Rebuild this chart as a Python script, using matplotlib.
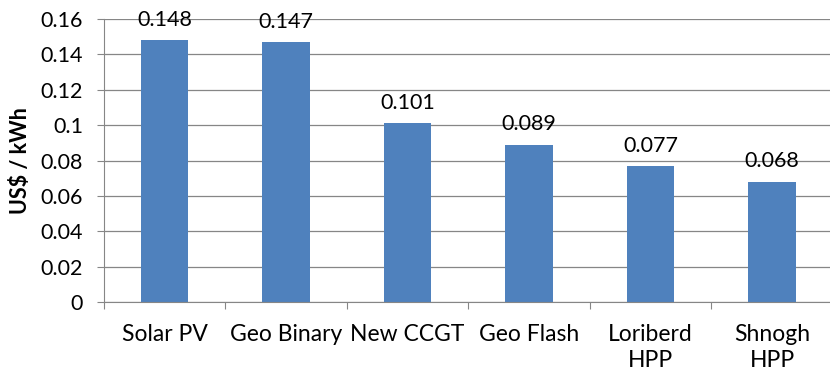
import matplotlib.pyplot as plt

categories = ["Solar PV", "Geo Binary", "New CCGT", "Geo Flash", "Loriberd\nHPP", "Shnogh\nHPP"]
costs = [0.148, 0.147, 0.101, 0.089, 0.077, 0.068]
yticks = [0, 0.02, 0.04, 0.06, 0.08, 0.1, 0.12, 0.14, 0.16]
ytick_labels = ["0", "0.02", "0.04", "0.06", "0.08", "0.1", "0.12", "0.14", "0.16"]

plt.rcParams['font.family'] = ['Lato', 'DejaVu Sans']
fs = 15.5
axis_grey = "#868686"

fig = plt.figure(figsize=(8.3, 3.79), dpi=100)
ax = fig.add_axes([0.1253, 0.203, 0.878, 0.747])

pos = range(len(categories))
ax.set_axisbelow(True)
ax.yaxis.grid(True, color=axis_grey, linewidth=0.9)
bars = ax.bar(pos, costs, width=0.39, color="#4F81BD", zorder=2)
for x, v in zip(pos, costs):
    ax.text(x, v + 0.0058, f"{v:.3f}", ha="center", va="bottom", fontsize=fs, color="#000000", zorder=3)

ax.set_xlim(-0.5, len(categories) - 0.5)
ax.set_ylim(0, 0.16)
ax.set_yticks(yticks)
ax.set_yticklabels(ytick_labels, fontsize=fs)

# category labels centred, tick marks on the boundaries
ax.set_xticks([p - 0.5 for p in range(len(categories) + 1)])
ax.set_xticklabels([])
ax.set_xticks(list(pos), minor=True)
ax.set_xticklabels(categories, minor=True, fontsize=16.5, linespacing=1.3)
ax.tick_params(axis="x", which="minor", length=0, pad=16)
ax.tick_params(axis="x", which="major", length=5, color=axis_grey, direction="out")
ax.tick_params(axis="y", length=5, color=axis_grey, direction="out", pad=10)

for s in ["top", "right"]:
    ax.spines[s].set_visible(False)
for s in ["left", "bottom"]:
    ax.spines[s].set_color(axis_grey)

ax.set_ylabel("US$ / kWh", fontsize=fs, fontweight="bold", labelpad=7)

fig.savefig("out.png", dpi=100)
